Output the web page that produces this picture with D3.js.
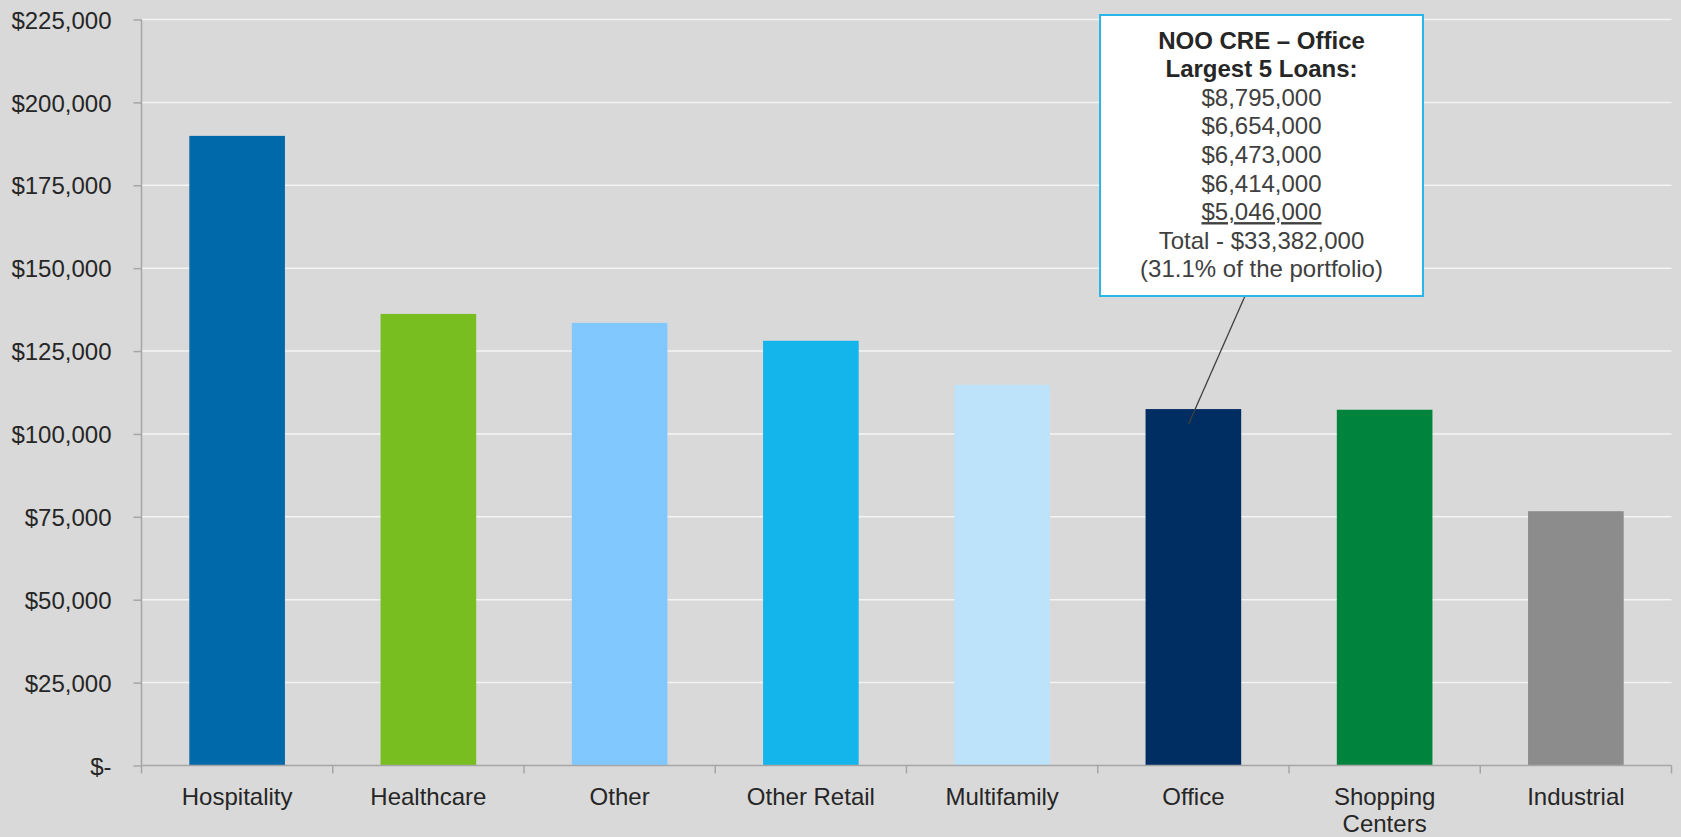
<!DOCTYPE html>
<html>
<head>
<meta charset="utf-8">
<script src="https://d3js.org/d3.v7.min.js"></script>
<style>
  body { margin: 0; background: #d9d9d9; }
  svg { display: block; font-family: "Liberation Sans", Arial, sans-serif; }
  .axisText { fill: #262626; font-size: 24px; }
  .calloutText { fill: #404040; font-size: 24px; }
</style>
</head>
<body>
<div id="chart"></div>
<script>
// data
var categories = ["Hospitality", "Healthcare", "Other", "Other Retail", "Multifamily", "Office", "Shopping Centers", "Industrial"];
var balances = [189900, 136200, 133500, 128100, 114800, 107500, 107300, 76700];
var barColors = ["#0069aa", "#78be20", "#80c8ff", "#13b5ea", "#bde3fb", "#002d62", "#00843d", "#8c8c8c"];
var yTicks = [0, 25000, 50000, 75000, 100000, 125000, 150000, 175000, 200000, 225000];
var calloutTitle = ["NOO CRE \u2013 Office", "Largest 5 Loans:"];
var calloutLoans = ["$8,795,000", "$6,654,000", "$6,473,000", "$6,414,000", "$5,046,000"];
var calloutFooter = ["Total - $33,382,000", "(31.1% of the portfolio)"];

// svg container
var svgWidth = 1681;
var svgHeight = 837;

var margin = {
  top: 19.5,
  right: 9.5,
  bottom: 71.5,
  left: 141.5
};

var chartWidth = svgWidth - margin.left - margin.right;
var chartHeight = svgHeight - margin.top - margin.bottom;

var svg = d3.select("#chart").append("svg")
  .attr("width", svgWidth)
  .attr("height", svgHeight);

svg.append("rect")
  .attr("width", svgWidth)
  .attr("height", svgHeight)
  .attr("fill", "#d9d9d9");

var chartGroup = svg.append("g")
  .attr("transform", `translate(${margin.left}, ${margin.top})`);

// scales
// ==============================
var xBandScale = d3.scaleBand()
  .domain(categories)
  .range([0, chartWidth])
  .paddingInner(0.5)
  .paddingOuter(0.25);

var yLinearScale = d3.scaleLinear()
  .domain([0, 225000])
  .range([chartHeight, 0]);

// gridlines
// ==============================
chartGroup.selectAll(".grid")
  .data(yTicks.filter(d => d > 0))
  .enter()
  .append("line")
  .attr("class", "grid")
  .attr("x1", 0)
  .attr("x2", chartWidth)
  .attr("y1", d => yLinearScale(d))
  .attr("y2", d => yLinearScale(d))
  .attr("stroke", "#f4f4f4")
  .attr("stroke-width", 1.5);

// bars
// ==============================
chartGroup.selectAll(".bar")
  .data(categories)
  .enter()
  .append("rect")
  .attr("class", "bar")
  .attr("x", d => xBandScale(d))
  .attr("width", xBandScale.bandwidth())
  .attr("y", (d, i) => yLinearScale(balances[i]))
  .attr("height", (d, i) => chartHeight - yLinearScale(balances[i]))
  .attr("fill", (d, i) => barColors[i]);

// axes
// ==============================
var yAxis = d3.axisLeft(yLinearScale)
  .tickValues(yTicks)
  .tickSize(8)
  .tickPadding(22)
  .tickFormat(d => d === 0 ? "$-" : "$" + d3.format(",")(d));

var yAxisGroup = chartGroup.append("g").call(yAxis);
yAxisGroup.select(".domain").attr("stroke", "#a6a6a6").attr("stroke-width", 1.5)
  .attr("d", `M0,0V${chartHeight}`);
yAxisGroup.selectAll(".tick line").attr("stroke", "#a6a6a6").attr("stroke-width", 1.5);
yAxisGroup.selectAll(".tick text")
  .attr("class", "axisText")
  .attr("dy", "0.36em");
yAxisGroup.attr("font-size", null).attr("font-family", null);

// x axis line and ticks at band edges
var xAxisGroup = chartGroup.append("g")
  .attr("transform", `translate(0, ${chartHeight})`);

xAxisGroup.append("line")
  .attr("x1", 0)
  .attr("x2", chartWidth)
  .attr("stroke", "#a6a6a6")
  .attr("stroke-width", 1.5);

var step = xBandScale.step();
xAxisGroup.selectAll(".xtick")
  .data(d3.range(categories.length + 1))
  .enter()
  .append("line")
  .attr("class", "xtick")
  .attr("x1", d => d * step)
  .attr("x2", d => d * step)
  .attr("y1", 0)
  .attr("y2", 8)
  .attr("stroke", "#a6a6a6")
  .attr("stroke-width", 1.5);

// category labels (wrap two-word Shopping Centers)
var labels = xAxisGroup.selectAll(".xlabel")
  .data(categories)
  .enter()
  .append("text")
  .attr("class", "axisText")
  .attr("text-anchor", "middle")
  .attr("x", d => xBandScale(d) + xBandScale.bandwidth() / 2)
  .attr("y", 39);

labels.each(function(d) {
  var words = d === "Shopping Centers" ? ["Shopping", "Centers"] : [d];
  var el = d3.select(this);
  var x = el.attr("x");
  words.forEach(function(w, i) {
    el.append("tspan")
      .attr("x", x)
      .attr("dy", i === 0 ? 0 : 27)
      .text(w);
  });
});

// callout box
// ==============================
var box = { x: 1100, y: 15, w: 323, h: 281 };
var officeIndex = categories.indexOf("Office");

// leader line from office bar to box
svg.append("line")
  .attr("x1", margin.left + xBandScale("Office") + xBandScale.bandwidth() * 0.45)
  .attr("y1", margin.top + yLinearScale(balances[officeIndex]) + 15)
  .attr("x2", 1245)
  .attr("y2", box.y + box.h)
  .attr("stroke", "#404040")
  .attr("stroke-width", 1.3);

svg.append("rect")
  .attr("x", box.x)
  .attr("y", box.y)
  .attr("width", box.w)
  .attr("height", box.h)
  .attr("fill", "#ffffff")
  .attr("stroke", "#29b6e8")
  .attr("stroke-width", 2);

var calloutLines = calloutTitle.map(t => ({ text: t, bold: true }))
  .concat(calloutLoans.map((t, i) => ({ text: t, underline: i === calloutLoans.length - 1 })))
  .concat(calloutFooter.map(t => ({ text: t })));

svg.selectAll(".calloutText")
  .data(calloutLines)
  .enter()
  .append("text")
  .attr("class", "calloutText")
  .attr("text-anchor", "middle")
  .attr("x", box.x + box.w / 2)
  .attr("y", (d, i) => 48.5 + i * 28.6)
  .style("font-weight", d => d.bold ? "bold" : "normal")
  .style("fill", d => d.bold ? "#262626" : "#404040")
  .style("text-decoration", d => d.underline ? "underline" : "none")
  .text(d => d.text);
</script>
</body>
</html>
